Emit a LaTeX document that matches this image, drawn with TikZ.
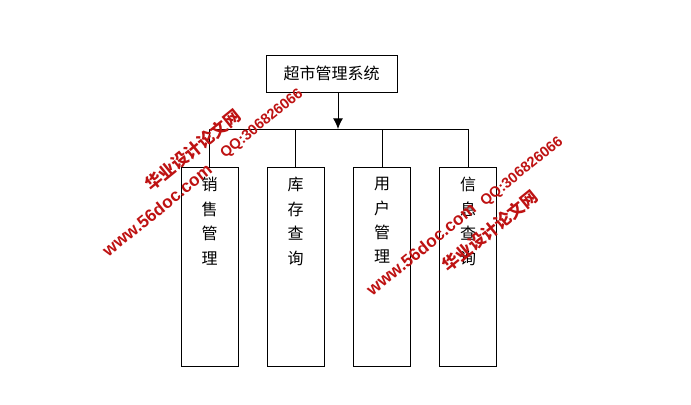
\documentclass[tikz,border=0pt]{standalone}
\usepackage{fontspec}
\setmainfont{Liberation Sans}
\newfontfamily\cjk{Noto Sans CJK SC}
\usetikzlibrary{arrows.meta, positioning}
\definecolor{wmred}{RGB}{190,18,18}
\tikzset{
  box/.style  = {draw, line width=0.75pt, inner sep=0pt},
  sysbox/.style = {box, minimum width=98.25pt, minimum height=27.75pt,
                  font=\cjk\fontsize{12}{14}\selectfont},
  modbox/.style = {box, minimum width=42.75pt, minimum height=149.25pt},
  vtxt/.style = {font=\cjk\fontsize{12}{18.3}\selectfont, align=center,
                 anchor=north, inner sep=0pt, yshift=-8pt},
  flow/.style = {-{Latex[length=8pt, width=7.5pt]}, line width=0.75pt},
  link/.style = {line width=0.75pt},
  wm/.style   = {text=wmred, rotate=39, inner sep=0pt},
}

\begin{document}
\begin{tikzpicture}[x=0.75pt, y=-0.75pt]
    \useasboundingbox (0,0) rectangle (691,404);

    \node[sysbox] (sys) at (331.5,73.5) {超市管理系统};
    \coordinate (bus) at (338,129);

    \node[modbox, label={[vtxt]north:销\\售\\管\\理}] (sale)  at (209.5,266.5) {};
    \node[modbox, label={[vtxt]north:库\\存\\查\\询}] (stock) at (295.5,266.5) {};
    \node[modbox, label={[vtxt]north:用\\户\\管\\理}] (user)  at (382,266.5) {};
    \node[modbox, label={[vtxt]north:信\\息\\查\\询}] (info)  at (468,266.5) {};

    \draw[flow] (bus |- sys.south) -- (bus);
    \draw[link] (sale.north) |- (info.north |- bus) -- (info.north);
    \draw[link] (stock.north) -- (stock.north |- bus);
    \draw[link] (user.north) -- (user.north |- bus);

    % watermark
    \node[wm, font=\cjk\bfseries\fontsize{12.5}{12.5}\selectfont] (wmnameA) at (193,150) {华业设计论文网};
    \node[wm, font=\bfseries\fontsize{11}{11}\selectfont] (wmqqA) at (262,124) {QQ:306826066};
    \node[wm, font=\bfseries\fontsize{13}{13}\selectfont] (wmurlA) at (157,210) {www.56doc.com};
    \node[wm, font=\bfseries\fontsize{11}{11}\selectfont] (wmqqB) at (522,172) {QQ:306826066};
    \node[wm, font=\bfseries\fontsize{13}{13}\selectfont] (wmurlB) at (421,249) {www.56doc.com};
    \node[wm, font=\cjk\bfseries\fontsize{12.5}{12.5}\selectfont] (wmnameB) at (490,231) {华业设计论文网};
\end{tikzpicture}
\end{document}
